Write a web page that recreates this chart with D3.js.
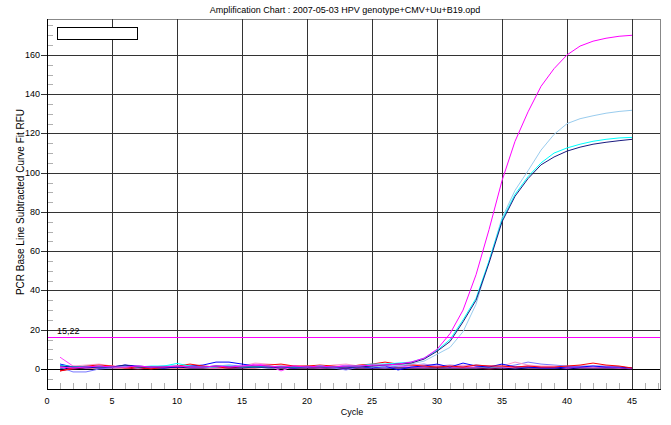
<!DOCTYPE html>
<html>
<head>
<meta charset="utf-8">
<script src="https://cdn.jsdelivr.net/npm/d3@7"></script>
<style>
  body { margin: 0; background: #fff; }
  svg text { font-family: "Liberation Sans", Arial, sans-serif; fill: #000; }
</style>
</head>
<body>
<svg id="chart"></svg>
<script>
// chart data
const cycles = [1, 2, 3, 4, 5, 6, 7, 8, 9, 10, 11, 12, 13, 14, 15, 16, 17, 18, 19, 20, 21, 22, 23, 24, 25, 26, 27, 28, 29, 30, 31, 32, 33, 34, 35, 36, 37, 38, 39, 40, 41, 42, 43, 44, 45];

const magentaAmp = [1, 0.5, 1, 1.5, 1, 1, 1.5, 1, 1, 1.5, 1, 1, 1.5, 1, 1.5, 2, 1.5, 1, 1.5, 1, 1.5, 1, 1.5, 1.5, 2, 2, 2.5, 3.5, 5.5, 10, 18, 30, 48, 71, 96, 116, 131, 144, 153, 160, 164.5, 167, 168.5, 169.5, 170];
const skyAmp = [1.5, 1, 1.5, 1, 1, 1, 1.5, 1, 1.5, 1.5, 1, 1, 1.5, 1.5, 1, 1.5, 1, 1.5, 1, 1, 1.5, 1, 1, 1.5, 1, 1.5, 2, 2.5, 4, 7.5, 11, 19, 33, 55, 77, 91, 101, 111.5, 119.5, 125, 127.5, 129, 130.3, 131.2, 131.8];
const cyanAmp = [2, 1, 1, 1.5, 1, 1.5, 1, 1.5, 1.5, 2.8, 1.5, 1, 1, 1.5, 1, 1, 1.5, 1, 1, 1, 1.5, 1, 1.5, 1.5, 2.5, 2.5, 3, 3.5, 5.5, 9.5, 15, 25, 36, 55, 76, 89, 98, 105, 110, 112.6, 114.5, 116, 117, 117.7, 118];
const navyAmp = [1.5, 1, 1, 1, 1, 2, 1, 1, 1, 1, 1, 1, 1.5, 1, 1, 1, 1, 1, 1, 1, 1, 1, 1, 1, 1.5, 2, 2.5, 3, 5, 9, 14, 24, 35, 54, 75, 88, 97, 104, 108, 111, 113, 114.5, 115.5, 116.3, 117];

const redNeg = [-1, 0.5, 1.5, 2, 1.5, 0.5, 1, 0, 1, 1.5, 2.5, 1.5, 1, 0.5, 1, 1.5, 2, 2.5, 1.5, 1.5, 2, 1.5, 1, 2, 2.5, 3.5, 2.5, 2, 1.5, 1, 1.5, 1, 2, 1.5, 1.5, 1, 1.5, 1, 1, 1.5, 2, 3, 2, 1.5, 0.5];
const blueNeg = [2.5, 1, 1, 0.5, 1, 2, 1.5, 1, 0.5, 1, 1.5, 2, 3.5, 3.5, 2.5, 1.5, 1, 1, 0.5, 1, 1.5, 1, 0.5, 1.5, 0.5, 1.5, -0.5, 1, 1.5, 2.5, 1, 3, 1.5, 1, 2.5, 1, 1, 0.5, 0.5, 1, 1, 1.5, 1, 1, 0.5];
const pinkNeg = [1, 1.5, 2, 2.5, 1.5, 1, 1.5, 1, 1, 1.5, 2, 1.5, 1, 1, 1.5, 3, 2.5, 2, 1.5, 1.5, 1, 2, 2.5, 1.5, 2, 1.5, 2, 2.5, 2, 2, 1.5, 2, 1.5, 1.5, 1.5, 3.5, 2, 1.5, 1.5, 1, 1.5, 1, 1.5, 1, 0.5];
const lilacNeg = [1, -1.5, -1.5, 0, 0.5, 1, 0.5, 1, 1.5, 1.5, 1, 1, 1.5, 2, 1.5, 1, 1, 1.5, 1, 1.5, 1, 0.5, -0.5, 1, 1, 0.5, 1.5, 2, 2.5, 1.5, 2, 1.5, 2, 1.5, 1, 2, 3.5, 2.5, 2, 1.5, 1.5, 1.5, 1.5, 1, 0.5];
const violetNeg = [6, 1.5, 0.5, 1, 1.5, 1, 1, 0.5, 1, 1, 1.5, 1, 0.5, 1, 1, 2.5, 2, -1, 1.5, 1, 0.5, 1, 2, 1, 1.5, 1, 1.5, 1, 1, 1.5, 1, 1, 1, 1.5, 1, 1, 1.5, 1, 1, 0.5, 1, 1, 1, 0.5, 0.5];
const navyNeg = [0, 0.5, 0.5, 1, 1, 1.5, 1, 0.5, 0.5, 1, 0.5, 0.5, 1, 0.5, 0.5, 1, 0.5, 0.5, 0.5, 0.5, 0.5, 0.5, 0.5, 0.5, 0.5, 0.5, 0.5, 0.5, 0.5, 0.5, 0.5, 0.5, 0.5, 0.5, 0.5, 0, 0.5, 0.5, 0.5, 0, 0.5, 0.5, 0.5, 0.5, 0];
const crimsonNeg = [-1, 0, 0.5, 0.5, 0.5, 0.5, 0, 0.5, 0.5, 0.5, 0.5, 0.5, 0.5, 0.5, 0.5, 0.5, 1, 0.5, 0.5, 0.5, 0.5, 0.5, 0, 0.5, 0.5, 0.5, 0.5, 0.5, 0.5, 0.5, 0.5, 0.5, 0.5, 0, 0.5, 0.5, 0.5, 0.5, 0.5, 0.5, 0.5, 0.5, 0.5, 0.5, 0];

const xTicks = [0, 5, 10, 15, 20, 25, 30, 35, 40, 45];
const yTicks = [0, 20, 40, 60, 80, 100, 120, 140, 160];
const threshold = 16.3;
const thresholdLabel = "15,22";

const title = "Amplification Chart : 2007-05-03 HPV genotype+CMV+Uu+B19.opd";

// Chart dimensions
const width = 671;
const height = 425;
const plotLeft = 47, plotRight = 660, plotTop = 19, plotBottom = 389;

const series = [
    {values: crimsonNeg, color: "#cc0033"},
    {values: navyNeg, color: "#000080"},
    {values: violetNeg, color: "#ff44ff"},
    {values: lilacNeg, color: "#7777ff"},
    {values: pinkNeg, color: "#ff99cc"},
    {values: blueNeg, color: "#0000ff"},
    {values: redNeg, color: "#ff0000"},
    {values: skyAmp, color: "#99ccee"},
    {values: cyanAmp, color: "#00ffff"},
    {values: navyAmp, color: "#1a1a80"},
    {values: magentaAmp, color: "#ff00ff"}
];

const svg = d3.select("#chart")
    .attr("width", width)
    .attr("height", height);

const x = d3.scaleLinear().domain([0, 47.15]).range([plotLeft, plotRight]);
const y = d3.scaleLinear().domain([-10.2, 178.3]).range([plotBottom, plotTop]);
const px = v => Math.round(v) + 0.5;

// frame
svg.append("rect")
    .attr("x", plotLeft + 0.5).attr("y", plotTop + 0.5)
    .attr("width", plotRight - plotLeft).attr("height", plotBottom - plotTop)
    .attr("fill", "#fff").attr("stroke", "#888");

// minor ticks
svg.append("g").selectAll("line")
    .data(d3.range(1, 48).filter(c => c % 5 !== 0))
    .enter().append("line")
    .attr("x1", c => px(x(c))).attr("x2", c => px(x(c)))
    .attr("y1", plotBottom).attr("y2", plotBottom - 6)
    .attr("stroke", "#b0b0b0");

svg.append("g").selectAll("line")
    .data(d3.range(-5, 178, 5).filter(v => v % 20 !== 0))
    .enter().append("line")
    .attr("x1", plotLeft).attr("x2", plotLeft + 6)
    .attr("y1", v => px(y(v))).attr("y2", v => px(y(v)))
    .attr("stroke", "#b0b0b0");

// grid
svg.append("g").selectAll("line")
    .data(xTicks.slice(1))
    .enter().append("line")
    .attr("x1", c => px(x(c))).attr("x2", c => px(x(c)))
    .attr("y1", plotTop).attr("y2", plotBottom)
    .attr("stroke", "#333");

svg.append("g").selectAll("line")
    .data(yTicks)
    .enter().append("line")
    .attr("x1", plotLeft - 6).attr("x2", plotRight)
    .attr("y1", v => px(y(v))).attr("y2", v => px(y(v)))
    .attr("stroke", v => v === 0 ? "#000" : "#333");

// axes lines
svg.append("line")
    .attr("x1", plotLeft + 0.5).attr("x2", plotLeft + 0.5)
    .attr("y1", plotTop).attr("y2", plotBottom + 1)
    .attr("stroke", "#000");
svg.append("line")
    .attr("x1", plotLeft).attr("x2", plotRight + 1)
    .attr("y1", plotBottom + 0.5).attr("y2", plotBottom + 0.5)
    .attr("stroke", "#000");

// tick labels
svg.append("g").selectAll("text")
    .data(xTicks)
    .enter().append("text")
    .attr("x", c => x(c)).attr("y", 404)
    .attr("text-anchor", "middle")
    .attr("font-size", 9)
    .text(c => c);

svg.append("g").selectAll("text")
    .data(yTicks)
    .enter().append("text")
    .attr("x", 40).attr("y", v => y(v) + 3)
    .attr("text-anchor", "end")
    .attr("font-size", 9)
    .text(v => v);

// curves
const line = d3.line()
    .x((d, i) => x(cycles[i]))
    .y(d => y(d));

svg.append("g").selectAll("path")
    .data(series)
    .enter().append("path")
    .attr("d", s => line(s.values))
    .attr("fill", "none")
    .attr("stroke", s => s.color)
    .attr("stroke-width", 1);

// threshold
svg.append("line")
    .attr("x1", plotLeft + 1).attr("x2", plotRight)
    .attr("y1", px(y(threshold))).attr("y2", px(y(threshold)))
    .attr("stroke", "#ff00ff")
    .attr("shape-rendering", "crispEdges");
svg.append("text")
    .attr("x", 57).attr("y", 334)
    .attr("font-size", 9)
    .text(thresholdLabel);

// empty legend box
svg.append("rect")
    .attr("x", 57.5).attr("y", 27.5)
    .attr("width", 80).attr("height", 12)
    .attr("fill", "#fff").attr("stroke", "#000");

// titles
svg.append("text")
    .attr("x", 345).attr("y", 13)
    .attr("text-anchor", "middle")
    .attr("font-size", 9)
    .text(title);

svg.append("text")
    .attr("x", 352).attr("y", 415)
    .attr("text-anchor", "middle")
    .attr("font-size", 9)
    .text("Cycle");

svg.append("text")
    .attr("transform", "translate(24,202) rotate(-90)")
    .attr("text-anchor", "middle")
    .attr("font-size", 10)
    .text("PCR Base Line Subtracted Curve Fit RFU");
</script>
</body>
</html>
